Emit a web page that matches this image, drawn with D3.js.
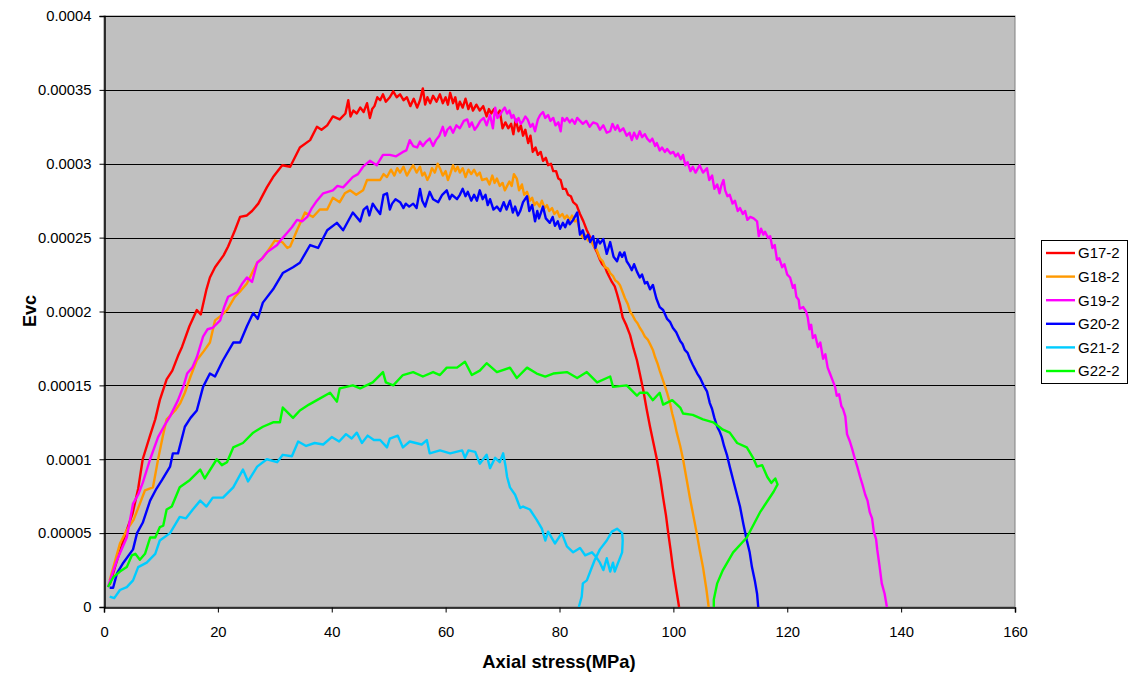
<!DOCTYPE html>
<html><head><meta charset="utf-8">
<script src="https://cdn.jsdelivr.net/npm/d3@7"></script>
<style>body{margin:0;background:#fff;font-family:Arial,"Liberation Sans",sans-serif}</style>
</head><body><svg id="c" width="1135" height="674"></svg>
<script>
// y values in units of 1e-5
const seriesNames = ["G17-2","G18-2","G19-2","G20-2","G21-2","G22-2"];
const seriesColors = ["#FF0000","#FF9900","#FF00FF","#0000FF","#00CCFF","#00FF00"];
const xTicks = [0,20,40,60,80,100,120,140,160];
const yTicks = [0,0.00005,0.0001,0.00015,0.0002,0.00025,0.0003,0.00035,0.0004];
const yTickLabels = ["0","0.00005","0.0001","0.00015","0.0002","0.00025","0.0003","0.00035","0.0004"];

const G17_2 = [[1,1.5],[2,2.8],[3,4],[4,5.2],[5,6.3],[6,8],[6.8,10],[8,11.5],[9,12.7],[9.8,14],[11,15.4],[12,16],[13,17],[13.7,17.6],[15,19],[16.3,20.1],[17,19.8],[18,21.5],[18.6,22.3],[19.5,23],[21,23.8],[21.8,24.4],[23,25.5],[23.9,26.4],[25.1,26.5],[26,26.8],[27.1,27.3],[28.6,28.4],[29.7,29.1],[31.3,29.9],[32.7,29.8],[34.4,31.1],[36.2,31.6],[37.4,32.5],[38.2,32.3],[39.2,32.6],[40.2,33.2],[41.4,33],[42.4,33.4],[42.9,34.3],[43.3,33.2],[43.8,33.6],[44.4,33.4],[45,33.8],[45.6,33.5],[46.2,34.1],[46.7,33.1],[47.1,33.7],[47.5,33.9],[48,34.5],[48.5,34.3],[49,34.7],[49.5,34.2],[50.2,34.5],[50.8,34.9],[51.4,34.5],[52,34.7],[52.6,34.3],[53.2,34.5],[53.8,33.9],[54.4,34.4],[55,33.8],[55.5,34.3],[56,35.1],[56.4,34],[56.8,34.5],[57.3,34.1],[57.8,34.6],[58.4,34.2],[59,34.7],[59.5,34.1],[60,34.5],[60.4,34],[60.8,34.8],[61.3,34.1],[61.7,34.5],[62.1,33.7],[62.5,34.2],[63,33.8],[63.5,34.4],[64,33.7],[64.4,34.1],[64.8,33.6],[65.4,34],[66,33.6],[66.6,33.9],[67.2,33.2],[67.6,33.7],[68,33.4],[68.5,33.7],[69,33.3],[69.5,33.6],[70,32.4],[70.5,32.8],[71,32.4],[71.5,32.7],[71.9,32],[72.3,33],[72.8,32.2],[73.2,32.6],[73.6,31.9],[74,32.3],[74.5,31.4],[74.9,31.9],[75.3,30.8],[75.8,31.1],[76.2,30.6],[76.7,30.8],[77.1,30.2],[77.6,30.4],[78,29.9],[78.5,30],[78.9,29.5],[79.4,29.5],[79.8,29],[80.2,28.9],[80.6,28.3],[81.1,28.3],[81.5,27.9],[82,27.8],[82.4,27.4],[83,27.2],[83.6,26.6],[84.2,26.1],[84.8,25.5],[85.3,25.1],[85.7,24.7],[86.2,24.3],[86.6,24],[87.1,23.5],[87.5,23.2],[88,23],[88.3,22.7],[88.8,22.3],[89.2,22],[89.7,21.7],[90.1,21.2],[90.6,20.5],[91.1,19.6],[91.7,19.1],[92.4,18.4],[93,17.5],[93.6,16.7],[94.1,15.8],[94.7,14.7],[95.3,13.4],[95.9,12.2],[96.5,11.1],[97.1,10],[97.7,8.7],[98.2,7.4],[98.7,6.2],[99.1,5],[99.5,3.9],[99.9,2.7],[100.5,1.2],[101,0]];
const G18_2 = [[1,1.8],[2,3.2],[2.8,4.3],[4,5.2],[5.2,5.9],[6.3,7],[7.2,7.9],[8.6,8.1],[9.5,10],[10.3,11.5],[11,12.7],[12.5,13.3],[13.4,13.8],[14.2,14.5],[15.2,15.6],[16.3,16.7],[17.5,17.3],[18.6,17.9],[19.5,19.4],[20.5,19.7],[21.6,20.1],[23,21],[24,21.4],[25.1,21.9],[26,22.6],[26.9,23.3],[27.8,23.6],[28.6,24],[30,24.8],[31.3,24.7],[32.2,24.3],[32.7,24.4],[33.9,25.5],[35.3,26.7],[36.7,26.4],[37.9,26.9],[39.2,26.9],[40.2,27.7],[41.4,27.4],[42.3,28],[43.2,28.2],[44.3,27.9],[45.5,28.2],[46.2,28.9],[47.2,28.9],[48.5,28.9],[49.1,29.3],[49.7,29.1],[50.4,29.6],[51,29.2],[51.5,29.7],[52,29.4],[52.6,29.8],[53.2,29.2],[53.8,29.6],[54.3,29.9],[54.9,29.4],[55.5,29.8],[55.9,29.2],[56.3,29.4],[56.8,28.9],[57.2,29.2],[57.6,29.7],[58.1,29.4],[58.6,30],[59,29.7],[59.5,29.2],[60,29.5],[60.4,28.9],[60.8,29.3],[61.3,29.9],[61.7,29.5],[62.1,29.8],[62.5,29.4],[63,29.7],[63.5,29.1],[64,29.6],[64.5,29.3],[65,29.6],[65.5,29.2],[66,29.4],[66.4,28.9],[67.2,29],[67.7,28.6],[68.2,29.2],[68.6,28.7],[69,29],[69.5,28.5],[70,28.7],[70.4,28.2],[70.8,28.5],[71.2,28.8],[71.6,28.5],[72,29.3],[72.5,29],[72.9,28.2],[73.4,28.6],[73.8,27.9],[74.3,28.1],[74.8,27.5],[75.2,27.7],[75.6,27.2],[76,27.4],[76.5,27.1],[76.9,27.5],[77.4,27],[77.8,27.2],[78.2,26.8],[78.7,27],[79.1,26.6],[79.6,26.8],[80,26.4],[80.5,26.6],[80.9,26.3],[81.3,26.5],[81.8,26.2],[82.2,26.5],[82.7,26.1],[83.1,26.2],[83.6,25.4],[84.1,25],[84.5,25.2],[85,24.8],[85.5,24.9],[85.9,24.5],[86.5,24.2],[87.1,23.6],[87.6,23.4],[88,23],[88.5,22.9],[88.9,22.6],[89.4,22.4],[89.8,22.1],[90.2,22],[90.6,21.8],[91.1,21.3],[91.5,20.9],[92,20.5],[92.4,20],[92.9,19.7],[93.3,19.4],[93.7,19.2],[94.1,18.9],[94.6,18.6],[95,18.3],[95.5,18.1],[95.9,17.8],[96.4,17.4],[96.8,16.9],[97.2,16.5],[97.6,16],[98.3,15.2],[98.9,14.5],[99.4,13.8],[99.8,13.1],[100.2,12.5],[100.6,11.8],[101.2,10.9],[101.7,10],[102.3,8.7],[102.9,7.4],[103.5,6.2],[104.1,5],[104.6,3.9],[105.2,2.7],[105.8,1.2],[106.2,0]];
const G19_2 = [[0.7,1.35],[1.5,2.3],[2.3,3.2],[3.2,4],[4,4.7],[5.1,7],[6,7.6],[6.8,8.4],[8.1,10],[9.5,11.5],[10.5,12.2],[11.6,12.9],[13,14],[14,15],[14.6,15.8],[15.5,16.2],[16.3,16.9],[17.4,18.3],[18.2,18.8],[19.1,18.9],[20.4,19.4],[21.1,20.3],[21.8,21],[23.4,21.3],[24.3,21.9],[25.1,22.3],[26,22],[26.9,23.3],[27.8,23.6],[28.6,24],[30.4,24.5],[31.2,24.9],[32.1,25.3],[33,25.7],[33.9,26.2],[34.8,26.1],[35.7,26.4],[36.5,27],[37.4,27.5],[38.5,28],[40.2,28.2],[41,28.5],[42,28.4],[43.7,29.1],[44.6,29.3],[45.5,29.8],[46.7,30.2],[47.9,29.9],[49,30.6],[50.2,30.6],[51.3,30.5],[52.5,30.8],[53.1,30.9],[53.7,31.6],[54.3,31.2],[55,31.1],[55.5,31.5],[56,31.2],[56.6,31.5],[57.2,31.7],[57.8,31.2],[58.3,31.6],[58.9,31.9],[59.5,32.5],[59.9,31.9],[60.3,32.3],[60.8,32.5],[61.3,32.1],[61.9,32.6],[62.5,32.4],[63.2,32.9],[63.8,33],[64.2,32.5],[64.6,32.8],[65.1,32.3],[65.5,32.5],[66.1,32.9],[66.7,33.1],[67.2,32.6],[67.8,33.3],[68.3,32.4],[68.7,33.8],[69.1,33.1],[69.5,33.3],[70,33.6],[70.4,33.8],[70.8,33.4],[71.2,33.6],[71.6,33.1],[71.9,33.3],[72.4,32.8],[72.8,33.1],[73.2,32.7],[73.6,32.9],[74,33.2],[74.4,33],[74.9,32.5],[75.3,32.7],[75.7,32.2],[76.2,33],[76.6,33.3],[77.1,33.5],[77.5,33.1],[78,33.3],[78.4,32.9],[78.9,33.1],[79.3,32.6],[79.8,32.8],[80.2,32.2],[80.5,33.1],[80.9,32.9],[81.3,33.1],[81.8,32.8],[82.2,33],[82.7,32.7],[83.1,33.1],[83.6,32.9],[84.1,32.7],[84.7,32.9],[85.3,32.5],[85.9,32.8],[86.6,32.7],[87.1,32.3],[87.7,32.6],[88.3,32.1],[88.9,32.2],[89.3,32.7],[89.8,32.3],[90.2,32.6],[90.6,32.2],[91.2,32.4],[91.8,31.9],[92.3,32.1],[92.7,31.6],[93.1,32.1],[93.6,31.7],[94.1,32.2],[94.5,31.8],[95,32],[95.4,31.7],[95.9,31.5],[96.3,31.7],[96.8,31.2],[97.1,31.4],[97.6,30.9],[98,31.1],[98.5,30.8],[98.9,31],[99.5,30.7],[100,30.8],[100.4,30.5],[100.8,30.7],[101.3,30.3],[101.7,30.6],[102.1,29.9],[102.5,30.1],[103,29.5],[103.4,29.8],[103.9,29.4],[104.6,29.9],[105.2,29.4],[105.9,29.7],[106.3,28.9],[106.8,29.2],[107.2,28.3],[107.7,28.6],[108.1,28],[108.4,28.5],[108.8,28.9],[109.1,28.2],[109.5,27.8],[109.9,27.9],[110.4,27.3],[110.8,27.5],[111.3,26.8],[111.7,27],[112.2,26.6],[112.6,26.8],[113,26.2],[113.5,26.4],[114.1,26.3],[114.7,26.1],[115,25.1],[115.4,25.6],[115.8,25.2],[116.1,25.4],[116.6,25],[117,25.1],[117.4,24.3],[117.8,24.5],[118.2,23.5],[118.6,23.6],[119.1,23],[119.5,23.2],[120,22.5],[120.5,22.3],[121,21.6],[121.3,21.8],[121.6,21],[122,20.8],[122.2,20.2],[122.8,20.3],[123.3,20],[123.6,19.6],[123.9,18.8],[124.2,19.1],[124.5,18.2],[124.9,18.4],[125.4,17.6],[125.8,17.9],[126.3,16.8],[126.7,17.1],[127.1,16.2],[127.5,15.8],[128,15.3],[128.4,14.9],[128.7,14.3],[129.1,14.4],[129.5,13.6],[129.8,13.4],[130.2,12.9],[130.5,11.7],[131,11.2],[131.4,10.7],[131.9,10],[132.3,9.5],[132.8,8.8],[133.2,8.3],[133.7,7.6],[134.1,7.2],[134.5,6.4],[134.9,6],[135.2,5.1],[135.6,4.6],[135.8,3.9],[136.2,2.8],[136.6,1.6],[137.1,0.9],[137.5,0]];
const G20_2 = [[1,1.3],[1.6,1.3],[2.3,2.3],[3.4,3],[5.1,3.9],[5.8,5],[6.8,5.7],[8.1,7.2],[9.2,8],[10.2,8.6],[11.6,9.5],[12.1,10.4],[13,10.4],[14.2,12.2],[15.2,12.8],[16.3,13.3],[17.4,14.9],[18.6,15.8],[19.5,15.6],[20.9,16.7],[22.7,17.9],[23.9,17.9],[25.1,19],[26.2,19.9],[27,19.5],[27.9,20.6],[29.7,21.5],[31.4,22.6],[33.2,23],[34.4,23.3],[36.2,24.5],[37.6,24.3],[39.2,25.5],[40.9,26],[42,25.5],[43.7,26.7],[45,26.1],[45.6,26.9],[46.2,27.1],[46.6,26.5],[47.2,27.3],[47.9,26.9],[48.5,26.6],[49.1,27.9],[49.7,28],[50.2,26.9],[50.6,27.3],[51.2,27.6],[52,27.4],[52.6,27],[53,27.3],[53.6,27.1],[54.3,27.3],[54.9,27],[55.5,28.3],[55.9,27.5],[56.4,27.1],[56.8,27.6],[57.2,28.1],[57.8,27.6],[58.7,27.4],[59.4,27.9],[60.2,28.2],[60.7,27.6],[61.1,27.9],[62,27.6],[62.5,27.9],[63,28.3],[63.5,27.8],[63.9,28.1],[64.5,27.5],[65,27.9],[65.5,27.5],[66,28.2],[66.5,27.6],[67,27.9],[67.4,27.2],[67.8,27.6],[68.4,26.9],[69,27.1],[69.6,26.8],[70.2,27.4],[70.7,26.9],[71.3,27.5],[71.8,26.7],[72.2,27.1],[72.7,26.5],[73.1,26.8],[73.6,27.4],[74.3,27.8],[74.7,26.8],[75.2,27.2],[75.7,26.1],[76.1,26.8],[76.4,26.3],[77.1,27.1],[77.6,26.3],[78.3,26],[78.8,26.4],[79.2,25.8],[79.7,26.1],[80.1,25.6],[80.6,26],[81,25.7],[81.5,26.2],[81.8,25.9],[82.4,26.2],[83.1,26.7],[83.4,25.8],[83.6,25.2],[84.1,25.5],[84.5,24.9],[85,25.2],[85.4,24.7],[85.9,25.1],[86.3,24.3],[86.7,24.9],[87.1,24.6],[87.7,24.9],[88.3,23.9],[88.9,24.7],[89.5,23.7],[90.1,23.4],[90.6,24],[91,23.7],[91.4,24],[91.8,23.4],[92.3,23.1],[92.7,22.8],[93.1,23.2],[93.6,22.7],[94.1,22.3],[94.5,22.5],[95,21.9],[95.4,22],[95.9,21.5],[96.4,21.8],[97,20.9],[97.6,20.3],[98.2,20.1],[98.9,19.5],[99.4,19.3],[99.9,18.9],[100.5,18.6],[101.2,18],[101.6,17.8],[102,17.4],[102.5,17.2],[102.9,16.8],[103.4,16.4],[103.8,16.1],[104.2,15.8],[104.7,15.5],[105.3,15],[105.9,14.6],[106.4,13.8],[106.8,13.4],[107.2,12.8],[107.7,12.2],[108.1,11.9],[108.5,11.5],[108.9,10.9],[109.4,10.3],[109.9,9.5],[110.5,8.6],[111.1,7.7],[111.7,6.8],[112.3,5.6],[112.9,4.5],[113.4,3.7],[113.8,2.7],[114.3,1.8],[114.7,0.9],[114.9,0]];
const G21_2 = [[1,0.7],[1.8,0.6],[2.8,1.15],[4,1.35],[5.1,1.8],[6,2.7],[7.5,3],[9,3.6],[9.8,4.5],[11.6,5],[13.3,6.1],[14.4,6],[15.6,6.6],[16.9,7.2],[18,6.8],[19.1,7.4],[20.9,7.4],[22.7,8.1],[24.4,9.3],[25.3,8.5],[26.9,9.5],[28.6,10],[30.4,9.8],[31.4,10.3],[33,10.2],[34.1,11.2],[35.5,10.9],[37,11.1],[38.5,11],[40,11.5],[41.3,11.2],[42.5,11.7],[43.5,11.4],[44.4,11.8],[45.3,11.1],[46.3,11.6],[47.4,11.3],[48.5,11.3],[49.7,10.8],[50.2,11.4],[51.6,11.6],[52.5,10.8],[53.7,11.2],[55.8,11],[56.7,11.3],[57.2,10.4],[59,10.6],[60.8,10.4],[62.9,10.6],[63.4,10.1],[64,10.6],[65.2,10.5],[66,9.7],[67.2,10.3],[67.8,9.4],[68.7,10.1],[69.5,9.8],[70.1,10.4],[70.5,9.6],[70.8,8.8],[71.3,8.1],[72.2,7.6],[73.1,6.7],[73.6,6.8],[74.8,6.6],[76,5.9],[76.9,5.3],[77.5,4.5],[78,5.1],[79.2,4.3],[80.4,5],[81.3,4.1],[82.4,3.7],[83.6,4],[84.5,3.5],[85.7,3.7],[86.4,3.4],[87.1,3],[87.7,2.5],[88.3,3.3],[88.9,2.4],[89.4,3],[89.7,2.4],[90.3,3],[91,3.7],[91.1,4.5],[91,5],[90.1,5.3],[89.2,5.1],[88.3,4.5],[87.1,3.9],[86.2,3.2],[85.4,2.4],[84.8,1.8],[84.1,1.6],[83.9,0.7],[83.4,0]];
const G22_2 = [[0.7,1.35],[1.6,2],[2.8,2.4],[4,2.7],[4.9,3.5],[5.5,3.6],[6.3,3.2],[7.2,3.6],[8.1,4.7],[9,4.7],[9.8,5.4],[10.4,5.5],[11,6.6],[11.9,6.8],[13.3,8.1],[15.1,8.6],[16.9,9.3],[17.7,8.7],[19.8,10],[20.7,9.6],[21.6,9.8],[22.7,10.8],[24.4,11.1],[26.2,11.8],[27.9,12.2],[29.7,12.5],[30.9,12.5],[31.4,13.5],[33.2,12.8],[34.4,13.3],[36,13.7],[37.4,14],[39.7,14.5],[40.9,13.9],[41.4,14.8],[43.7,15],[45,14.8],[47.2,15.2],[49,15.9],[49.5,15.2],[50.8,15],[52.5,15.7],[54.3,15.9],[56,15.6],[57.8,15.9],[59,15.7],[60.2,16.2],[62,16.2],[63.4,16.6],[64.6,15.7],[66,16],[67.2,16.5],[69,15.9],[71.3,16.2],[72.5,15.5],[74.3,16.2],[76,15.8],[77.5,15.6],[78.9,15.8],[81.3,15.9],[83.1,15.5],[84.8,15.9],[86.6,15.2],[88.9,15.6],[89.4,14.9],[91.8,15],[93.6,14.3],[94.1,14.5],[95.4,14.5],[96.4,14],[97.6,14.5],[98.2,13.7],[99.8,14],[101.2,13.5],[101.7,13.1],[103.4,13],[105.2,12.7],[107,12.5],[108.7,12],[109.9,11.8],[111.2,11.1],[112.9,10.8],[114,10.1],[114.7,9.5],[115.6,9.6],[116.5,8.8],[117.2,8.4],[117.9,8.7],[118.3,8.3],[117.6,7.8],[115.2,6.4],[112.9,4.7],[110.5,3.7],[108.7,2.5],[107.7,1.6],[107.1,0.5],[107.1,0]];
const seriesData = [G17_2,G18_2,G19_2,G20_2,G21_2,G22_2];

const FONT = "Arial, 'Liberation Sans', sans-serif";
const svg = d3.select("#c");
const m = {l:104, t:16, r:1015, b:607};
const x = d3.scaleLinear().domain([0,160]).range([m.l,m.r]);
const y = d3.scaleLinear().domain([0,0.0004]).range([m.b,m.t]);

svg.append("rect").attr("x",m.l).attr("y",m.t).attr("width",m.r-m.l).attr("height",m.b-m.t)
  .attr("fill","#C0C0C0").attr("stroke","#808080").attr("stroke-width",1);

svg.append("g").selectAll("line").data(yTicks.slice(1)).join("line")
  .attr("x1",m.l).attr("x2",m.r).attr("y1",d=>Math.round(y(d))+0.5).attr("y2",d=>Math.round(y(d))+0.5)
  .attr("stroke","#000").attr("stroke-width",1);

const line = d3.line().x(d=>x(d[0])).y(d=>y(d[1]*1e-5));
const plot = svg.append("g");
seriesData.forEach((s,i)=>{
  plot.append("path").datum(s).attr("d",line).attr("fill","none")
    .attr("stroke",seriesColors[i]).attr("stroke-width",2.4).attr("stroke-linejoin","round");
});

const yAxis = d3.axisLeft(y).tickValues(yTicks).tickFormat((d,i)=>yTickLabels[i]).tickSize(5).tickPadding(8);
const gy = svg.append("g").attr("transform",`translate(${m.l+0.5},0)`).call(yAxis);
const xAxis = d3.axisBottom(x).tickValues(xTicks).tickFormat(d3.format("d")).tickSize(5).tickPadding(14);
const gx = svg.append("g").attr("transform",`translate(0,${m.b+0.5})`).call(xAxis);
[gx,gy].forEach(g=>{
  g.select(".domain").attr("stroke","#000").attr("stroke-width",1.5);
  g.selectAll(".tick line").attr("stroke","#000");
  g.selectAll("text").attr("font-family",FONT).attr("font-size",14.8).attr("fill","#000");
});

svg.append("text").attr("x",559).attr("y",668).attr("text-anchor","middle")
  .attr("font-family",FONT).attr("font-weight","bold").attr("font-size",18.4).text("Axial stress(MPa)");
svg.append("text").attr("transform","translate(36,311) rotate(-90)").attr("text-anchor","middle")
  .attr("font-family",FONT).attr("font-weight","bold").attr("font-size",18).text("Evc");

const lg = svg.append("g");
lg.append("rect").attr("x",1041.5).attr("y",240.5).attr("width",86).attr("height",143)
  .attr("fill","#fff").attr("stroke","#000");
seriesNames.forEach((n,i)=>{
  const yy = 253 + i*23.6;
  lg.append("line").attr("x1",1046).attr("x2",1075).attr("y1",yy).attr("y2",yy)
    .attr("stroke",seriesColors[i]).attr("stroke-width",2.4);
  lg.append("text").attr("x",1078).attr("y",yy+5.3).attr("font-family",FONT)
    .attr("font-size",15).text(n);
});
</script></body></html>
